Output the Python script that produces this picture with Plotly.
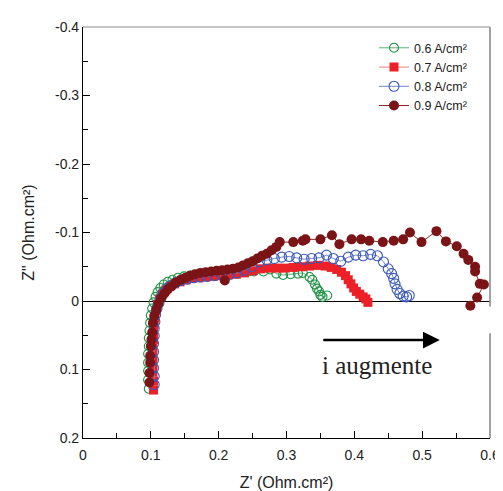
import plotly.graph_objects as go

# ---------------- data ----------------
series_names = ["0.6 A/cm²", "0.7 A/cm²", "0.8 A/cm²", "0.9 A/cm²"]

g_re = [0.097, 0.096, 0.096, 0.096, 0.096, 0.097, 0.097, 0.098, 0.099, 0.100, 0.102, 0.104, 0.107, 0.110,
        0.114, 0.119, 0.125, 0.132, 0.140, 0.149, 0.158, 0.168, 0.178, 0.189, 0.200, 0.211, 0.222, 0.234,
        0.244, 0.252, 0.266, 0.276, 0.285, 0.295, 0.306, 0.317, 0.324, 0.334, 0.338, 0.342, 0.345, 0.348,
        0.350, 0.353, 0.360]
g_im = [0.128, 0.115, 0.102, 0.090, 0.077, 0.066, 0.054, 0.043, 0.032, 0.021, 0.011, 0.002, -0.006, -0.013,
        -0.019, -0.024, -0.028, -0.031, -0.034, -0.036, -0.037, -0.038, -0.039, -0.040, -0.041, -0.042, -0.042, -0.043,
        -0.043, -0.043, -0.043, -0.046, -0.040, -0.038, -0.039, -0.040, -0.041, -0.035, -0.031, -0.024, -0.018, -0.014,
        -0.009, -0.006, -0.008]

r_re = [0.104, 0.104, 0.103, 0.103, 0.103, 0.103, 0.104, 0.104, 0.105, 0.106, 0.108, 0.110, 0.113, 0.117,
        0.122, 0.128, 0.135, 0.143, 0.152, 0.161, 0.171, 0.181, 0.192, 0.203, 0.214, 0.226, 0.238, 0.250,
        0.262, 0.274, 0.286, 0.298, 0.310, 0.322, 0.334, 0.346, 0.357, 0.366, 0.374, 0.381, 0.387, 0.391,
        0.395, 0.399, 0.403, 0.408, 0.413, 0.417, 0.420]
r_im = [0.130, 0.117, 0.104, 0.092, 0.080, 0.068, 0.056, 0.045, 0.034, 0.024, 0.014, 0.005, -0.003, -0.010,
        -0.016, -0.021, -0.025, -0.028, -0.031, -0.033, -0.034, -0.035, -0.036, -0.037, -0.038, -0.039, -0.041, -0.044,
        -0.047, -0.048, -0.048, -0.048, -0.049, -0.050, -0.051, -0.052, -0.051, -0.049, -0.046, -0.042, -0.037, -0.031,
        -0.025, -0.019, -0.014, -0.010, -0.006, -0.003, 0.002]

b_re = [0.105, 0.105, 0.104, 0.104, 0.104, 0.104, 0.105, 0.105, 0.106, 0.107, 0.109, 0.112, 0.115, 0.119,
        0.124, 0.130, 0.137, 0.145, 0.154, 0.163, 0.173, 0.183, 0.194, 0.205, 0.216, 0.227, 0.238, 0.249,
        0.260, 0.271, 0.282, 0.293, 0.304, 0.315, 0.326, 0.337, 0.348, 0.359, 0.369, 0.380, 0.391, 0.402,
        0.413, 0.424, 0.434, 0.443, 0.450, 0.455, 0.458, 0.460, 0.463, 0.467, 0.472, 0.477, 0.481]
b_im = [0.122, 0.110, 0.098, 0.086, 0.074, 0.062, 0.051, 0.040, 0.030, 0.020, 0.011, 0.003, -0.005, -0.012,
        -0.018, -0.023, -0.027, -0.030, -0.032, -0.034, -0.035, -0.036, -0.037, -0.038, -0.039, -0.041, -0.045, -0.050,
        -0.057, -0.060, -0.062, -0.064, -0.065, -0.063, -0.061, -0.062, -0.063, -0.067, -0.062, -0.058, -0.064, -0.067,
        -0.066, -0.068, -0.066, -0.057, -0.047, -0.040, -0.033, -0.025, -0.017, -0.011, -0.007, -0.006, -0.008]

d_re = [0.098, 0.098, 0.099, 0.099, 0.100, 0.101, 0.102, 0.103, 0.105, 0.108, 0.111, 0.115, 0.120, 0.125,
        0.131, 0.137, 0.144, 0.151, 0.158, 0.165, 0.173, 0.181, 0.189, 0.197, 0.205, 0.209, 0.213, 0.221,
        0.229, 0.236, 0.243, 0.250, 0.257, 0.264, 0.271, 0.278, 0.285, 0.290, 0.310, 0.324, 0.328, 0.350,
        0.367, 0.378, 0.396, 0.410, 0.422, 0.442, 0.458, 0.472, 0.482, 0.499, 0.521, 0.535, 0.551, 0.561,
        0.568, 0.578, 0.578, 0.585, 0.591, 0.581, 0.571]
d_im = [0.119, 0.105, 0.090, 0.080, 0.066, 0.056, 0.046, 0.032, 0.022, 0.013, 0.004, -0.004, -0.011, -0.017,
        -0.022, -0.027, -0.031, -0.034, -0.037, -0.039, -0.041, -0.042, -0.043, -0.044, -0.045, -0.030, -0.046, -0.047,
        -0.049, -0.052, -0.055, -0.058, -0.062, -0.066, -0.069, -0.074, -0.079, -0.086, -0.086, -0.088, -0.090, -0.090,
        -0.096, -0.083, -0.090, -0.090, -0.088, -0.086, -0.088, -0.090, -0.100, -0.086, -0.102, -0.087, -0.080, -0.069,
        -0.060, -0.050, -0.043, -0.025, -0.024, -0.005, 0.007]

x_tick_vals = [0, 0.1, 0.2, 0.3, 0.4, 0.5, 0.6]
x_tick_text = ["0", "0.1", "0.2", "0.3", "0.4", "0.5", "0.6"]
y_tick_vals = [-0.4, -0.3, -0.2, -0.1, 0, 0.1, 0.2]
y_tick_text = ["-0.4", "-0.3", "-0.2", "-0.1", "0", "0.1", "0.2"]

arrow_label = "i augmente"

# ---------------- figure ----------------
fig = go.Figure()

fig.add_trace(go.Scatter(x=g_re, y=g_im, name=series_names[0], mode="lines+markers",
                         line=dict(color="#5cb27a", width=1),
                         marker=dict(symbol="circle-open", size=9, color="#1f9146", line=dict(width=1.1))))
fig.add_trace(go.Scatter(x=r_re, y=r_im, name=series_names[1], mode="lines+markers",
                         line=dict(color="#f39a9a", width=1.2),
                         marker=dict(symbol="square", size=9, color="#ec2027")))
fig.add_trace(go.Scatter(x=b_re, y=b_im, name=series_names[2], mode="lines+markers",
                         line=dict(color="#6f86c8", width=1),
                         marker=dict(symbol="circle-open", size=10, color="#3a59b5", line=dict(width=1.1))))
fig.add_trace(go.Scatter(x=d_re, y=d_im, name=series_names[3], mode="lines+markers",
                         line=dict(color="#8a2424", width=1),
                         marker=dict(symbol="circle", size=10, color="#7a1416")))

axis_font = dict(family="Liberation Sans, Arial, sans-serif", size=14, color="#222222")
title_font = dict(family="Liberation Sans, Arial, sans-serif", size=16, color="#222222")

fig.update_layout(
    width=503, height=491,
    margin=dict(l=75, r=11, t=17, b=58),
    paper_bgcolor="white", plot_bgcolor="white",
    font=dict(family="Liberation Sans, Arial, sans-serif", color="#222222"),
    showlegend=True,
    legend=dict(x=0.715, y=0.985, xanchor="left", yanchor="top",
                bgcolor="rgba(255,255,255,0)", borderwidth=0,
                font=dict(family="Liberation Sans, Arial, sans-serif", size=12.5, color="#222222")),
    xaxis=dict(range=[0, 0.6], tickvals=x_tick_vals, ticktext=x_tick_text,
               ticks="inside", ticklen=7, tickcolor="black", tickwidth=1,
               minor=dict(dtick=0.05, ticks="inside", ticklen=5, tickcolor="black"),
               showline=True, linecolor="black", linewidth=1.2, showgrid=False, zeroline=False,
               tickfont=axis_font, ticklabelstandoff=4,
               title=dict(text="Z' (Ohm.cm²)", font=title_font, standoff=14)),
    yaxis=dict(range=[0.2, -0.4], tickvals=y_tick_vals, ticktext=y_tick_text,
               ticks="inside", ticklen=7, tickcolor="black", tickwidth=1,
               minor=dict(dtick=0.05, ticks="inside", ticklen=5, tickcolor="black"),
               showline=True, linecolor="black", linewidth=1.2, showgrid=False,
               zeroline=True, zerolinecolor="black", zerolinewidth=1.2,
               tickfont=axis_font,
               title=dict(text='Z" (Ohm.cm²)', font=title_font, standoff=16)),
)

# gray top / right frame (right side broken behind the annotation)
fig.add_shape(type="line", xref="paper", yref="paper", x0=0, x1=1, y0=1, y1=1,
              line=dict(color="#8c8c8c", width=1))
fig.add_shape(type="line", xref="paper", yref="y", x0=1, x1=1, y0=-0.4, y1=0.008,
              line=dict(color="#8c8c8c", width=1.6))
fig.add_shape(type="line", xref="paper", yref="y", x0=1, x1=1, y0=0.047, y1=0.2,
              line=dict(color="#8c8c8c", width=1.6))

# arrow and label
fig.add_annotation(x=0.526, y=0.057, ax=0.352, ay=0.057, xref="x", yref="y", axref="x", ayref="y",
                   text="", showarrow=True, arrowhead=2, arrowsize=1.4, arrowwidth=2.4, arrowcolor="black")
fig.add_annotation(x=0.433, y=0.094, xref="x", yref="y", text=arrow_label, showarrow=False,
                   font=dict(family="Liberation Serif, Times New Roman, serif", size=25, color="#222222"))

fig.write_html("out.html")
